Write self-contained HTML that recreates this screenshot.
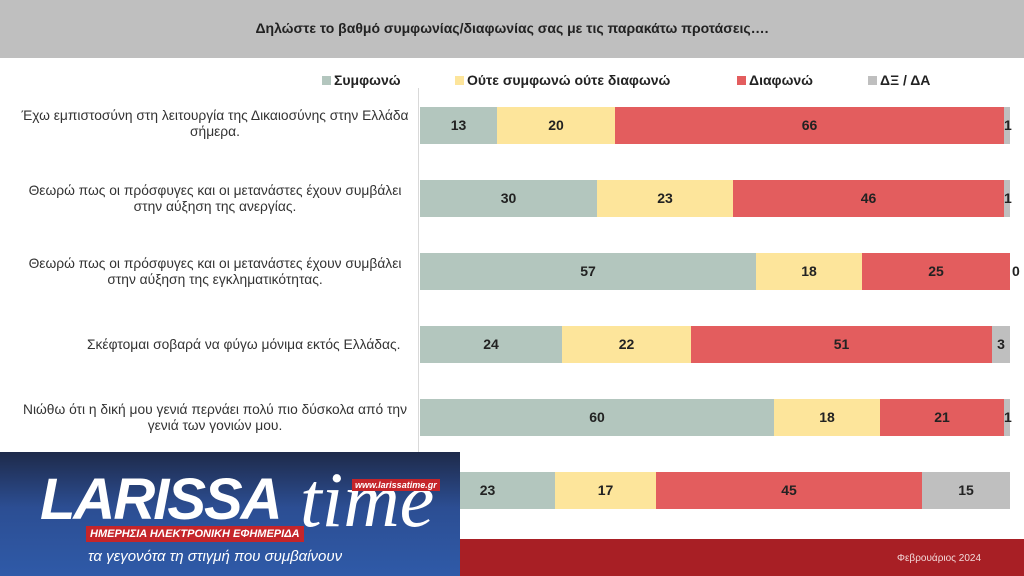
<!DOCTYPE html><html><head><meta charset="utf-8"><style>
body{margin:0;width:1024px;height:576px;position:relative;overflow:hidden;background:#fff;font-family:"Liberation Sans","DejaVu Sans",sans-serif}
.hdr{position:absolute;left:0;top:0;width:1024px;height:58px;background:#bfbfbf;text-align:center;line-height:56px;font-size:14px;font-weight:bold;color:#222}
.foot{position:absolute;left:0;top:539px;width:1024px;height:37px;background:#a81f25}
.date{position:absolute;left:897px;top:553px;color:#f3dada;font-size:10px}
.axis{position:absolute;left:418px;top:88px;width:1px;height:452px;background:#d9d9d9}
.lg{position:absolute;top:72px;font-size:14px;font-weight:bold;color:#222}
.lg i{display:inline-block;width:9px;height:9px;margin-right:3px}
.bar{position:absolute;left:420px;height:37px;display:flex}
.bar div{height:37px;line-height:37px;text-align:center;font-size:14px;font-weight:bold;color:#222;overflow:visible;white-space:nowrap}
.g{background:#b3c6be}.y{background:#fde59b}.r{background:#e35d5e}.k{background:#bfbfbf}
.lab{position:absolute;left:0;width:430px;text-align:center;font-size:13.8px;color:#333;line-height:16px;white-space:nowrap}
.logo{position:absolute;left:0;top:452px;width:460px;height:124px;background:linear-gradient(#1e2a4a,#2c4e93 45%,#2f5aa8)}
</style></head><body>
<div class="hdr">Δηλώστε το βαθμό συμφωνίας/διαφωνίας σας με τις παρακάτω προτάσεις….</div>
<div class="axis"></div>
<div class="lg" style="left:322px"><i style="background:#b3c6be"></i>Συμφωνώ</div>
<div class="lg" style="left:455px"><i style="background:#fde59b"></i>Ούτε συμφωνώ ούτε διαφωνώ</div>
<div class="lg" style="left:737px"><i style="background:#e35d5e"></i>Διαφωνώ</div>
<div class="lg" style="left:868px"><i style="background:#bfbfbf"></i>ΔΞ / ΔΑ</div>

<div class="lab" style="top:108px">Έχω εμπιστοσύνη στη λειτουργία της Δικαιοσύνης στην Ελλάδα<br>σήμερα.</div>
<div class="bar" style="top:107px"><div class="g" style="width:77px">13</div><div class="y" style="width:118px">20</div><div class="r" style="width:389px">66</div><div class="k" style="width:6px">1</div></div>

<div class="lab" style="top:183px">Θεωρώ πως οι πρόσφυγες και οι μετανάστες έχουν συμβάλει<br>στην αύξηση της ανεργίας.</div>
<div class="bar" style="top:180px"><div class="g" style="width:177px">30</div><div class="y" style="width:136px">23</div><div class="r" style="width:271px">46</div><div class="k" style="width:6px">1</div></div>

<div class="lab" style="top:256px">Θεωρώ πως οι πρόσφυγες και οι μετανάστες έχουν συμβάλει<br>στην αύξηση της εγκληματικότητας.</div>
<div class="bar" style="top:253px"><div class="g" style="width:336px">57</div><div class="y" style="width:106px">18</div><div class="r" style="width:148px">25</div><div style="width:0;padding-left:2px">0</div></div>

<div class="lab" style="top:337px;left:87px;width:316px;text-align:left">Σκέφτομαι σοβαρά να φύγω μόνιμα εκτός Ελλάδας.</div>
<div class="bar" style="top:326px"><div class="g" style="width:142px">24</div><div class="y" style="width:129px">22</div><div class="r" style="width:301px">51</div><div class="k" style="width:18px">3</div></div>

<div class="lab" style="top:402px">Νιώθω ότι η δική μου γενιά περνάει πολύ πιο δύσκολα από την<br>γενιά των γονιών μου.</div>
<div class="bar" style="top:399px"><div class="g" style="width:354px">60</div><div class="y" style="width:106px">18</div><div class="r" style="width:124px">21</div><div class="k" style="width:6px">1</div></div>

<div class="bar" style="top:472px"><div class="g" style="width:135px">23</div><div class="y" style="width:101px">17</div><div class="r" style="width:266px">45</div><div class="k" style="width:88px">15</div></div>

<div class="foot"></div>
<div class="date">Φεβρουάριος 2024</div>

<div class="logo">
<div style="position:absolute;left:40px;top:18px;font-size:58px;font-weight:bold;font-style:italic;color:#fff;letter-spacing:-2px;line-height:60px">LARISSA</div>
<div style="position:absolute;left:300px;top:8px;font-size:78px;font-style:italic;font-family:'Liberation Serif',serif;color:#fff;line-height:80px">time</div>
<div style="position:absolute;left:352px;top:27px;background:#c5252a;color:#fff;font-size:9px;font-weight:bold;font-style:italic;padding:1px 3px">www.larissatime.gr</div>
<div style="position:absolute;left:86px;top:74px;background:#c5252a;color:#fff;font-size:11px;font-weight:bold;font-style:italic;padding:2px 4px">ΗΜΕΡΗΣΙΑ ΗΛΕΚΤΡΟΝΙΚΗ ΕΦΗΜΕΡΙΔΑ</div>
<div style="position:absolute;left:88px;top:96px;color:#fff;font-size:15px;font-style:italic">τα γεγονότα τη στιγμή που συμβαίνουν</div>
</div>
</body></html>
